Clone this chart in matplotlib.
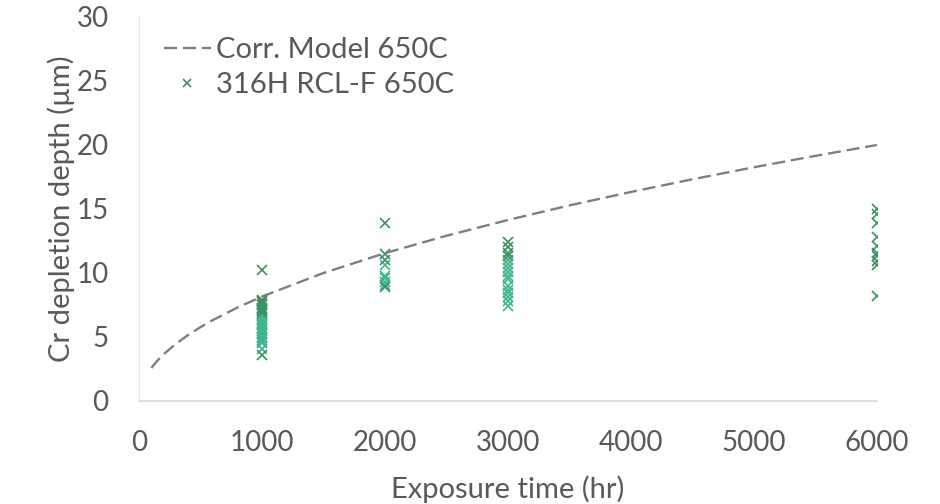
import matplotlib
matplotlib.use("Agg")
import matplotlib.pyplot as plt

plt.rcParams['font.family'] = ['Lato', 'DejaVu Sans']

# Model curve
model_t = [100, 150, 200, 300, 400, 500, 600, 800, 1000, 1500, 2000, 2500, 3000, 3500, 4000, 4500, 5000, 5500, 6000]
model_d = [2.58, 3.16, 3.65, 4.47, 5.16, 5.77, 6.32, 7.30, 8.16, 10.0, 11.55, 12.91, 14.14, 15.28, 16.33, 17.32, 18.26, 19.15, 20.0]

# Measured data (dark green points)
dark_t = [1000]*11 + [2000]*4 + [3000]*4 + [6000]*10
dark_d = [10.2, 7.9, 7.8, 7.7, 7.6, 7.5, 7.3, 7.2, 7.0, 6.9, 3.6,
          13.9, 11.5, 11.0, 8.9,
          12.4, 12.0, 11.6, 11.3,
          15.0, 14.6, 13.9, 12.8, 12.1, 11.6, 11.3, 10.9, 10.6, 8.2]
# Measured data (teal points)
teal_t = [1000]*18 + [2000]*5 + [3000]*12
teal_d = [6.8, 6.6, 6.4, 6.3, 6.1, 6.0, 5.9, 5.7, 5.6, 5.5, 5.3, 5.2, 5.0, 4.9, 4.8, 4.6, 4.5, 4.1,
          10.6, 9.8, 9.6, 9.3, 9.1,
          11.0, 10.7, 10.4, 10.1, 9.8, 9.5, 9.0, 8.7, 8.4, 8.1, 7.8, 7.4]

xticks = [0, 1000, 2000, 3000, 4000, 5000, 6000]
yticks = [0, 5, 10, 15, 20, 25, 30]

fig = plt.figure(figsize=(9.4, 5.04), dpi=100)
ax = fig.add_axes([0.1479, 0.2044, 0.7850, 0.7619])

ax.plot(model_t, model_d, color='#7f7f7f', lw=1.7, dashes=(5.5, 2.5),
        label='Corr. Model 650C', zorder=2)
ax.plot(teal_t, teal_d, 'x', color='#3fb58d', ms=7.5, mew=1.2, ls='none', zorder=3)
ax.plot(dark_t, dark_d, 'x', color='#3a925e', ms=7.5, mew=1.2, ls='none',
        label='316H RCL-F 650C', zorder=4)

ax.set_xlim(0, 6000)
ax.set_ylim(0, 30)
ax.set_xticks(xticks)
ax.set_yticks(yticks)
for s in ['top', 'right']:
    ax.spines[s].set_visible(False)
ax.spines['bottom'].set_color('#d9d9d9')
ax.spines['bottom'].set_linewidth(1.2)
ax.spines['left'].set_color('#e6e6e6')
ax.spines['left'].set_linewidth(0.8)
ax.tick_params(length=0, labelsize=20, labelcolor='#595959')
ax.tick_params(axis='x', pad=21)
ax.tick_params(axis='y', pad=22)

ax.set_xlabel('Exposure time (hr)', fontsize=21, color='#595959', labelpad=14)
ax.set_ylabel('Cr depletion depth (\u00b5m)', fontsize=21, color='#595959', labelpad=1)

leg = ax.legend(loc='upper left', bbox_to_anchor=(0.018, 0.978), frameon=False,
                fontsize=21, labelcolor='#595959', handlelength=1.6,
                handletextpad=0.2, borderaxespad=0.0, labelspacing=0.3,
                markerscale=0.8)

fig.savefig('out.png', dpi=100)
